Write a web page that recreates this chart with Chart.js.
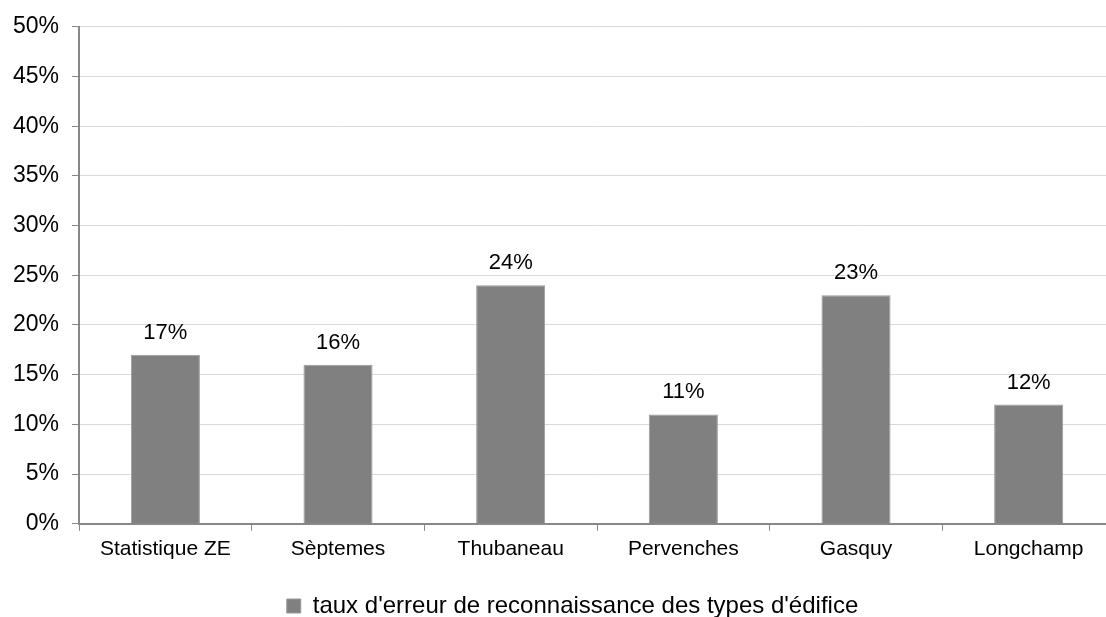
<!DOCTYPE html>
<html>
<head>
<meta charset="utf-8">
<script src="https://cdn.jsdelivr.net/npm/chart.js@4/dist/chart.umd.min.js"></script>
<style>
  html, body { margin: 0; padding: 0; background: #fff; overflow: hidden; }
  #wrap { width: 1120px; height: 617px; }
</style>
</head>
<body>
<div id="wrap"><canvas id="chart" width="1120" height="617"></canvas></div>
<script>
var categories = ['Statistique ZE', 'Sèptemes', 'Thubaneau', 'Pervenches', 'Gasquy', 'Longchamp'];
var seriesName = "taux d'erreur de reconnaissance des types d'édifice";
var values = [0.17, 0.16, 0.24, 0.11, 0.23, 0.12];

var fontFamily = '"Liberation Sans", Arial, sans-serif';

// draws the value above each bar
var valueLabels = {
  id: 'valueLabels',
  afterDatasetsDraw: function(chart) {
    var ctx = chart.ctx;
    ctx.save();
    ctx.font = '22px ' + fontFamily;
    ctx.fillStyle = '#000';
    ctx.textAlign = 'center';
    ctx.textBaseline = 'alphabetic';
    chart.getDatasetMeta(0).data.forEach(function(bar, i) {
      ctx.fillText(Math.round(values[i] * 100) + '%', bar.x, bar.y - 16);
    });
    ctx.restore();
  }
};

// the legend sits a little right of the canvas centre
var legendShift = {
  id: 'legendShift',
  afterLayout: function(chart) {
    if (chart.legend) {
      chart.legend.left += 15;
      chart.legend.right += 15;
    }
  }
};

var options = {
  type: 'bar',
  data: {
    labels: categories,
    datasets: [
      {
        label: seriesName,
        data: values,
        backgroundColor: '#808080',
        borderColor: '#9a9a9a',
        borderWidth: 1,
        barPercentage: 0.4,
        categoryPercentage: 1.0
      }
    ]
  },
  options: {
    responsive: false,
    animation: false,
    layout: { padding: { top: 12, right: 5, left: 0, bottom: -11 } },
    plugins: {
      tooltip: { enabled: false },
      legend: {
        position: 'bottom',
        labels: {
          font: { family: fontFamily, size: 24 },
          color: '#000',
          boxWidth: 14,
          boxHeight: 14,
          padding: 0
        }
      }
    },
    scales: {
      x: {
        grid: {
          offset: true,
          drawOnChartArea: false,
          tickLength: 7,
          tickColor: '#888'
        },
        border: { color: '#888', width: 2 },
        ticks: {
          font: { family: fontFamily, size: 21 },
          color: '#000',
          padding: 6,
          maxRotation: 0
        },
        afterFit: function(scale) { scale.height += 26; }
      },
      y: {
        min: 0,
        max: 0.5,
        grid: {
          color: '#d9d9d9',
          tickLength: 7,
          tickColor: '#888'
        },
        border: { color: '#888', width: 2 },
        ticks: {
          stepSize: 0.05,
          font: { family: fontFamily, size: 23 },
          color: '#000',
          padding: 13,
          callback: function(v) { return Math.round(v * 100) + '%'; }
        }
      }
    }
  },
  plugins: [valueLabels, legendShift]
};

var chart = new Chart(document.getElementById('chart'), options);
</script>
</body>
</html>
